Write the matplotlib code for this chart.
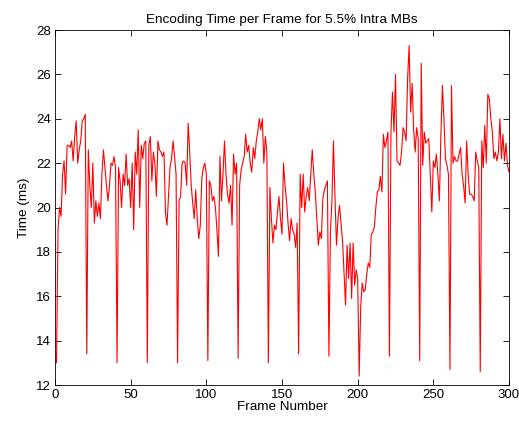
import numpy as np
import matplotlib
matplotlib.use("Agg")
import matplotlib.pyplot as plt

# encoding time (ms) for frames 1..300, intra frame every 20 frames
frames = np.arange(1, 301)
times = [
    13.0, 19.0, 20.0, 19.6, 21.5, 22.1, 20.6, 22.8, 22.8, 22.7,
    23.0, 22.1, 23.2, 23.9, 22.0, 22.6, 23.0, 23.9, 24.0, 24.2,
    13.4, 22.6, 21.0, 20.0, 22.0, 19.3, 20.3, 19.6, 20.2, 19.5,
    21.5, 22.6, 21.8, 21.0, 20.3, 21.0, 22.0, 21.9, 22.3, 21.8,
    13.0, 21.8, 21.2, 20.0, 21.5, 21.0, 22.4, 21.0, 21.3, 20.0,
    22.0, 19.0, 22.5, 21.5, 23.5, 20.0, 22.8, 22.2, 22.9, 23.0,
    13.0, 22.8, 23.2, 21.2, 22.5, 22.0, 20.5, 23.0, 22.6, 22.5,
    22.3, 22.5, 19.8, 19.2, 20.5, 21.8, 22.2, 23.0, 22.3, 21.5,
    13.0, 20.3, 20.5, 22.0, 22.1, 22.0, 21.0, 23.8, 22.5, 21.0,
    20.2, 19.5, 20.8, 19.5, 18.6, 19.2, 21.3, 21.8, 22.0, 21.5,
    13.1, 21.2, 21.0, 20.3, 20.5, 20.0, 19.0, 17.8, 22.3, 20.3,
    21.5, 23.0, 21.5, 20.6, 20.2, 21.0, 19.2, 22.4, 21.5, 22.0,
    13.2, 21.0, 21.7, 22.0, 22.3, 23.3, 22.5, 22.8, 22.0, 21.6,
    22.7, 22.2, 23.0, 23.4, 24.0, 23.5, 24.0, 22.0, 23.2, 22.5,
    13.0, 20.9, 19.5, 18.4, 19.2, 19.0, 19.8, 20.5, 19.5, 18.8,
    22.0, 21.0, 20.3, 19.3, 18.5, 19.5, 19.0, 18.8, 18.2, 19.3,
    13.4, 21.5, 20.0, 21.5, 19.8, 20.5, 20.9, 20.3, 21.5, 22.6,
    21.5, 20.7, 19.5, 18.3, 18.9, 18.6, 20.4, 20.8, 21.0, 21.2,
    13.3, 18.9, 20.3, 23.0, 20.5, 18.3, 19.5, 20.1, 19.3, 18.5,
    17.0, 15.6, 18.3, 16.8, 18.4, 15.9, 18.4, 16.5, 17.2, 16.8,
    12.4, 15.5, 16.6, 16.2, 16.3, 17.0, 17.5, 17.3, 18.8, 18.9,
    19.1, 20.0, 20.7, 20.8, 21.4, 20.7, 23.3, 22.7, 23.0, 23.4,
    13.3, 23.4, 25.2, 23.4, 26.0, 22.1, 22.0, 21.9, 22.5, 23.6,
    23.4, 23.0, 25.8, 27.3, 24.3, 25.6, 23.5, 22.5, 23.6, 23.1,
    13.1, 26.5, 21.9, 23.4, 22.9, 23.0, 23.1, 21.5, 19.8, 22.1,
    21.8, 22.4, 21.5, 20.3, 23.3, 25.5, 24.0, 22.2, 21.9, 21.5,
    12.7, 25.5, 22.0, 22.3, 22.1, 22.1, 22.4, 22.7, 21.5, 21.0,
    20.2, 23.0, 21.5, 20.6, 20.6, 20.5, 20.3, 22.5, 22.1, 21.8,
    12.6, 23.0, 21.8, 23.7, 22.0, 25.1, 24.9, 24.0, 23.4, 22.2,
    22.5, 22.1, 22.5, 24.0, 22.2, 23.3, 22.1, 22.9, 21.9, 21.6,
]
xticks = [0, 50, 100, 150, 200, 250, 300]
yticks = [12, 14, 16, 18, 20, 22, 24, 26, 28]

plt.rcParams['font.family'] = ['Liberation Sans', 'DejaVu Sans']
plt.rcParams['font.size'] = 9.5

fig = plt.figure(figsize=(5.19, 4.22), dpi=100)
ax = fig.add_axes([55 / 519, 1 - 385 / 422, 454 / 519, 355 / 422])
ax.plot(frames, times, color='red', linewidth=0.8)

ax.set_xlim(0, 300)
ax.set_ylim(12, 28)
ax.set_xticks(xticks)
ax.set_yticks(yticks)
ax.tick_params(direction='in', top=True, right=True, length=4, width=0.6, pad=3)
for s in ax.spines.values():
    s.set_linewidth(0.6)

ax.set_title('Encoding Time per Frame for 5.5% Intra MBs', fontsize=9.7, pad=5)
ax.set_xlabel('Frame Number', fontsize=9.7, labelpad=0)
ax.set_ylabel('Time (ms)', fontsize=9.7, labelpad=4)

fig.savefig('out.png', dpi=100)
